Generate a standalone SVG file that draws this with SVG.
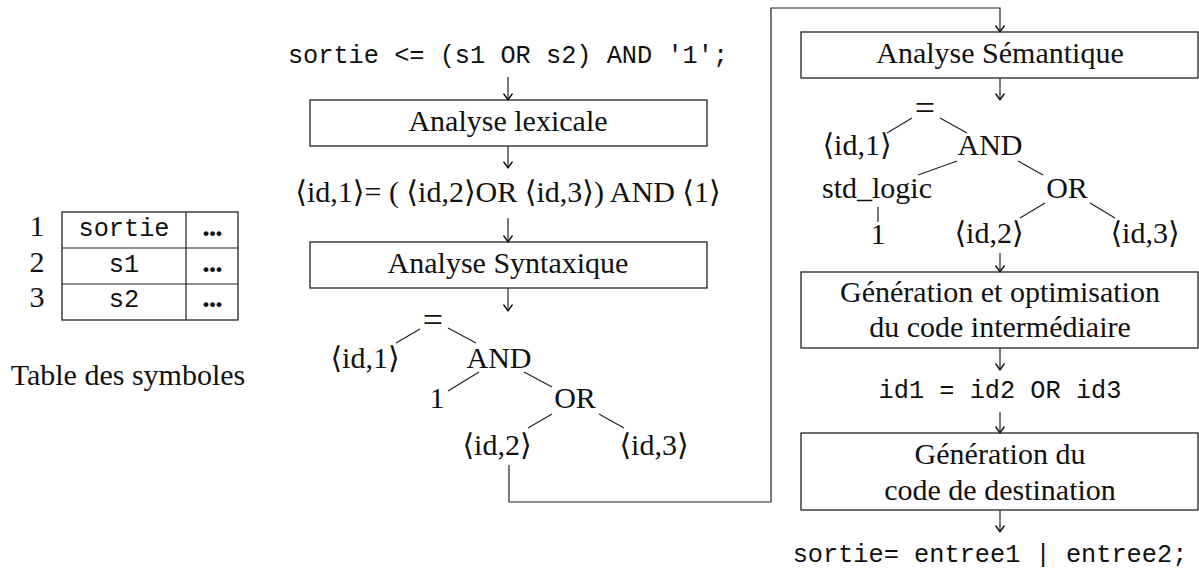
<svg xmlns="http://www.w3.org/2000/svg" width="1199" height="569" viewBox="0 0 1199 569">
  <style>
    .rm { font-family: "Liberation Serif", "DejaVu Serif", "DejaVu Sans", serif; font-size: 30px; fill: #111; text-anchor: middle; }
    .eq { font-size: 36px; }
    .tt { font-family: "Liberation Mono", "DejaVu Sans Mono", monospace; font-size: 25.3px; fill: #111; text-anchor: middle; }
    .dots { font-weight: bold; letter-spacing: -1px; }
    .box { fill: #fff; stroke: #222; stroke-width: 1.3; }
    .edge { fill: none; stroke: #222; stroke-width: 1.2; }
    .arr { fill: none; stroke: #222; stroke-width: 1.2; marker-end: url(#tip); }
  </style>
  <defs>
    <marker id="tip" markerUnits="userSpaceOnUse" markerWidth="16" markerHeight="16" viewBox="-8 -8 16 16" refX="0" refY="0" orient="auto" overflow="visible">
      <path d="M -6 -4.2 Q -2 -1.2 0 0 Q -2 1.2 -6 4.2" fill="none" stroke="#111" stroke-width="1.4" stroke-linecap="round" stroke-linejoin="round"/>
    </marker>
  </defs>
  <rect width="1199" height="569" fill="#fff"/>

  <!-- symbol table -->
  <g id="symbol-table">
    <rect x="62" y="212" width="176" height="108" class="box"/>
    <line x1="62" y1="248" x2="238" y2="248" class="edge"/>
    <line x1="62" y1="284" x2="238" y2="284" class="edge"/>
    <line x1="186" y1="212" x2="186" y2="320" class="edge"/>
    <text x="37" y="236" class="rm">1</text>
    <text x="37" y="272" class="rm">2</text>
    <text x="37" y="307" class="rm">3</text>
    <text x="124" y="236" class="tt">sortie</text>
    <text x="124" y="272" class="tt">s1</text>
    <text x="124" y="307" class="tt">s2</text>
    <text x="212" y="236" class="rm dots">...</text>
    <text x="212" y="272" class="rm dots">...</text>
    <text x="212" y="307" class="rm dots">...</text>
    <text x="128" y="385" class="rm">Table des symboles</text>
  </g>

  <!-- left column -->
  <g id="source">
    <text x="508" y="63" class="tt">sortie &lt;= (s1 OR s2) AND '1';</text>
  </g>
  <g id="lexical">
    <rect x="310" y="100" width="397" height="46" class="box"/>
    <text x="508" y="131" class="rm">Analyse lexicale</text>
  </g>
  <g id="tokens">
    <text x="508" y="202" class="rm">⟨id,1⟩= ( ⟨id,2⟩OR ⟨id,3⟩) AND ⟨1⟩</text>
  </g>
  <g id="syntax">
    <rect x="310" y="242" width="397" height="46" class="box"/>
    <text x="508" y="273" class="rm">Analyse Syntaxique</text>
  </g>
  <g id="syntax-tree">
    <g id="st-eq"><text x="433" y="332" class="rm eq">=</text></g>
    <g id="st-id1"><text x="365" y="368" class="rm">⟨id,1⟩</text></g>
    <g id="st-and"><text x="499" y="368" class="rm">AND</text></g>
    <g id="st-one"><text x="437" y="408" class="rm">1</text></g>
    <g id="st-or"><text x="575" y="408" class="rm">OR</text></g>
    <g id="st-id2"><text x="497" y="455" class="rm">⟨id,2⟩</text></g>
    <g id="st-id3"><text x="654" y="455" class="rm">⟨id,3⟩</text></g>
  </g>

  <!-- right column -->
  <g id="semantic">
    <rect x="801" y="32" width="397" height="46" class="box"/>
    <text x="1000" y="63" class="rm">Analyse Sémantique</text>
  </g>
  <g id="semantic-tree">
    <g id="se-eq"><text x="925" y="120" class="rm eq">=</text></g>
    <g id="se-id1"><text x="857" y="155" class="rm">⟨id,1⟩</text></g>
    <g id="se-and"><text x="990" y="155" class="rm">AND</text></g>
    <g id="se-type"><text x="877" y="198" class="rm">std_logic</text></g>
    <g id="se-or"><text x="1067" y="198" class="rm">OR</text></g>
    <g id="se-one"><text x="878" y="244" class="rm">1</text></g>
    <g id="se-id2"><text x="989" y="243" class="rm">⟨id,2⟩</text></g>
    <g id="se-id3"><text x="1145" y="243" class="rm">⟨id,3⟩</text></g>
  </g>
  <g id="intermediate">
    <rect x="801" y="272" width="397" height="76" class="box"/>
    <text x="1000" y="302" class="rm">Génération et optimisation</text>
    <text x="1000" y="337" class="rm">du code intermédiaire</text>
  </g>
  <g id="three-address">
    <text x="1000" y="398" class="tt">id1 = id2 OR id3</text>
  </g>
  <g id="codegen">
    <rect x="801" y="433" width="397" height="77" class="box"/>
    <text x="1000" y="464" class="rm">Génération du</text>
    <text x="1000" y="500" class="rm">code de destination</text>
  </g>
  <g id="target">
    <text x="990" y="562" class="tt">sortie= entree1 | entree2;</text>
  </g>

  <!-- connectors -->
  <g id="connectors">
    <path d="M508 77 V100" class="arr"/>
    <path d="M508 146 V168" class="arr"/>
    <path d="M508 218 V242" class="arr"/>
    <path d="M508 288 V311" class="arr"/>
    <path d="M509 465 V502 H771 V8 H1000 V32" class="arr"/>
    <path d="M1000 78 V100" class="arr"/>
    <path d="M1000 253 V272" class="arr"/>
    <path d="M1000 348 V370" class="arr"/>
    <path d="M1000 412 V433" class="arr"/>
    <path d="M1000 510 V532" class="arr"/>

    <!-- syntax tree edges -->
    <line x1="420" y1="329" x2="396" y2="343" class="edge"/>
    <line x1="448" y1="328" x2="476" y2="343" class="edge"/>
    <line x1="479" y1="372" x2="448" y2="391" class="edge"/>
    <line x1="524" y1="372" x2="552" y2="387" class="edge"/>
    <line x1="552" y1="414" x2="528" y2="428" class="edge"/>
    <line x1="599" y1="414" x2="624" y2="428" class="edge"/>

    <!-- semantic tree edges -->
    <line x1="912" y1="118" x2="887" y2="133" class="edge"/>
    <line x1="940" y1="118" x2="967" y2="133" class="edge"/>
    <line x1="957" y1="161" x2="918" y2="175" class="edge"/>
    <line x1="1018" y1="161" x2="1043" y2="175" class="edge"/>
    <line x1="878" y1="207" x2="878" y2="222" class="edge"/>
    <line x1="1045" y1="203" x2="1020" y2="218" class="edge"/>
    <line x1="1090" y1="203" x2="1115" y2="218" class="edge"/>
  </g>
</svg>
